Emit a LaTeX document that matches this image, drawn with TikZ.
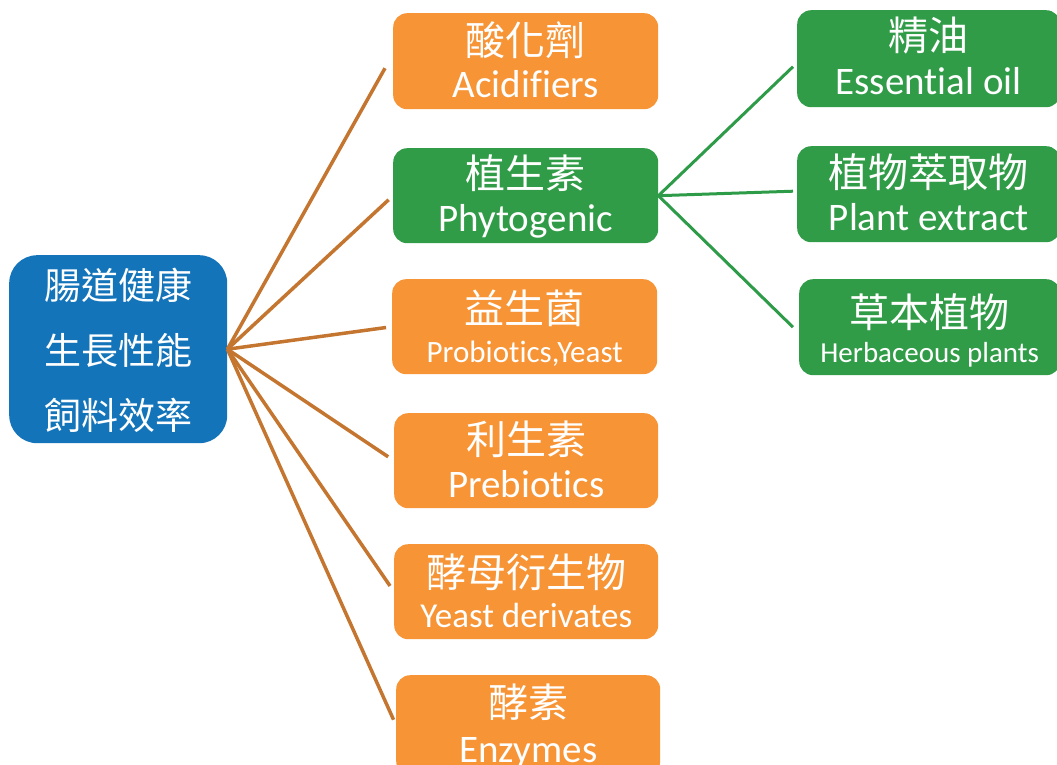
\documentclass[tikz,border=0pt]{standalone}
\usepackage{fontspec}
\setmainfont{Carlito}[Ligatures=NoCommon]
\newfontfamily\cjk{Noto Sans CJK TC}
\definecolor{boxorange}{RGB}{247,148,54}
\definecolor{boxgreen}{RGB}{49,156,72}
\definecolor{boxblue}{RGB}{20,116,186}
\definecolor{lineorange}{RGB}{196,118,48}
\definecolor{linegreen}{RGB}{46,155,72}
\tikzset{
  obox/.style={fill=boxorange, rounded corners=14pt, anchor=north west, inner sep=0pt},
  gbox/.style={fill=boxgreen, rounded corners=14pt, anchor=north west, inner sep=0pt},
  bbox/.style={fill=boxblue, rounded corners=28pt, anchor=north west, inner sep=0pt},
  cj/.style={text=white, inner sep=0pt, font=\cjk\fontsize{40}{44}\selectfont},
  cjb/.style={text=white, inner sep=0pt, font=\cjk\fontsize{37}{40}\selectfont},
  en/.style={text=white, inner sep=0pt, anchor=base, font=\fontsize{39}{44}\selectfont},
  olink/.style={draw=lineorange, line width=3.5pt},
  glink/.style={draw=linegreen, line width=3pt},
}
\begin{document}
\begin{tikzpicture}[x=1pt,y=-1pt]
\useasboundingbox (0,0) rectangle (1057,765);
\clip (0,0) rectangle (1057,765);
% boxes
\node[bbox, minimum width=218pt, minimum height=188pt] (hub) at (9,255) {};
\node[obox, minimum width=265pt, minimum height=96pt] (acid) at (393,13) {};
\node[gbox, minimum width=265pt, minimum height=95pt] (phyto) at (393,148) {};
\node[obox, minimum width=265pt, minimum height=95pt] (probio) at (392,279) {};
\node[obox, minimum width=264pt, minimum height=95pt] (prebio) at (394,413) {};
\node[obox, minimum width=264pt, minimum height=95pt] (yeast) at (394,544) {};
\node[obox, minimum width=264pt, minimum height=100pt] (enzy) at (396,675) {};
\node[gbox, minimum width=263pt, minimum height=97pt] (eo) at (797,10) {};
\node[gbox, minimum width=263pt, minimum height=96pt] (pe) at (797,146) {};
\node[gbox, minimum width=261pt, minimum height=96pt] (hp) at (799,279) {};
% texts
\node[cjb] (hubA) at ([yshift=-30pt]hub.north) {腸道健康};
\node[cjb] (hubB) at ([yshift=-95pt]hub.north) {生長性能};
\node[cjb] (hubC) at ([yshift=-160pt]hub.north) {飼料效率};
\node[cj] (acidC) at ([yshift=-27pt]acid.north) {酸化劑};
\node[en] (acidE) at ([yshift=-85pt]acid.north) {Acidifiers};
\node[cj] (phytoC) at ([yshift=-25pt]phyto.north) {植生素};
\node[en] (phytoE) at ([yshift=-83pt]phyto.north) {Phytogenic};
\node[cj] (probioC) at ([yshift=-29pt]probio.north) {益生菌};
\node[en, font=\fontsize{31}{36}\selectfont] (probioE) at ([yshift=-83pt]probio.north) {Probiotics,Yeast};
\node[cj] (prebioC) at ([yshift=-26pt]prebio.north) {利生素};
\node[en] (prebioE) at ([yshift=-84pt]prebio.north) {Prebiotics};
\node[cj] (yeastC) at ([yshift=-28pt]yeast.north) {酵母衍生物};
\node[en, font=\fontsize{35}{40}\selectfont] (yeastE) at ([yshift=-83pt]yeast.north) {Yeast derivates};
\node[cj] (enzyC) at ([yshift=-27pt]enzy.north) {酵素};
\node[en] (enzyE) at ([yshift=-87pt]enzy.north) {Enzymes};
\node[cj] (eoC) at ([yshift=-26pt]eo.north) {精油};
\node[en] (eoE) at ([yshift=-85pt]eo.north) {Essential oil};
\node[cj] (peC) at ([yshift=-26pt]pe.north) {植物萃取物};
\node[en] (peE) at ([yshift=-84pt]pe.north) {Plant extract};
\node[cj] (hpC) at ([yshift=-33pt]hp.north) {草本植物};
\node[en, font=\fontsize{29}{34}\selectfont] (hpE) at ([yshift=-83pt]hp.north) {Herbaceous plants};
% connector ends
\coordinate (acidIn) at ([xshift=-8pt,yshift=-7pt]acid.west);
\coordinate (eoIn) at ([xshift=-4pt,yshift=-8pt]eo.west);
\coordinate (peIn) at ([xshift=-4pt,yshift=3pt]pe.west);
\coordinate (hpIn) at ([xshift=-6pt]hp.west);
% connectors
\draw[olink] (hub.east) -- (acidIn);
\draw[olink, shorten >=6pt] (hub.east) -- (phyto.west);
\draw[olink, shorten >=6pt] (hub.east) -- (probio.west);
\draw[olink, shorten >=7pt] (hub.east) -- (prebio.west);
\draw[olink, shorten >=7pt] (hub.east) -- (yeast.west);
\draw[olink, shorten >=6pt] (hub.east) -- (enzy.west);
\draw[glink] (phyto.east) -- (eoIn);
\draw[glink] (phyto.east) -- (peIn);
\draw[glink] (phyto.east) -- (hpIn);
\end{tikzpicture}
\end{document}
